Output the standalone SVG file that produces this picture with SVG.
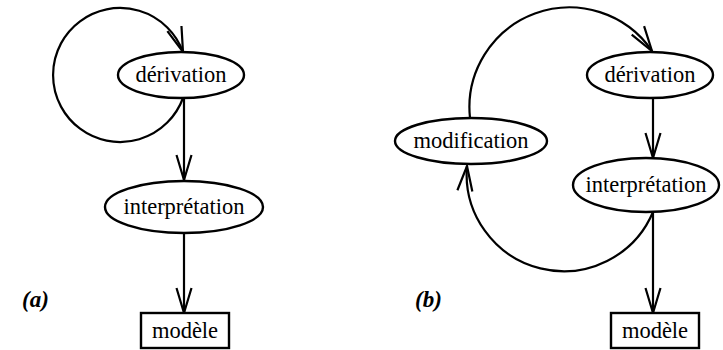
<svg xmlns="http://www.w3.org/2000/svg" width="723" height="350" viewBox="0 0 723 350">
  <style>
    .node { fill: #fff; stroke: #000; stroke-width: 2.4; }
    .lbl { font-size: 22.5px; text-anchor: middle; fill: #000; }
    .tag { font-size: 23px; font-weight: bold; font-style: italic; fill: #000; }
    .edge { fill: none; stroke: #000; stroke-width: 2.2; marker-end: url(#arrow); }
  </style>
  <defs>
    <marker id="arrow" markerUnits="userSpaceOnUse" markerWidth="30" markerHeight="20" refX="0" refY="0" viewBox="-26 -10 30 20" orient="auto" overflow="visible">
      <path d="M -25 -7.5 L 0 0 L -25 7.5" fill="none" stroke="#000" stroke-width="2.2"/>
    </marker>
  </defs>
  <rect width="723" height="350" fill="#fff"/>

  <!-- connectors -->
  <g id="connectors">
    <!-- (a) -->
    <path class="edge" d="M 183 98 A 67 67 0 1 1 183 52"/>
    <path class="edge" d="M 184 98 L 184 180"/>
    <path class="edge" d="M 184 233 L 184 313"/>
    <!-- (b) -->
    <path class="edge" d="M 470 118 A 100 100 0 0 1 652 51"/>
    <path class="edge" d="M 653 98 L 653 158"/>
    <path class="edge" d="M 653 212 A 97 97 0 0 1 467 166"/>
    <path class="edge" d="M 653 212 L 653 313"/>
  </g>

  <g font-family="Liberation Serif, Times New Roman, serif">
    <!-- (a) nodes -->
    <g id="a-derivation">
      <ellipse class="node" cx="181" cy="75" rx="63" ry="23"/>
      <text class="lbl" x="181" y="82">dérivation</text>
    </g>
    <g id="a-interpretation">
      <ellipse class="node" cx="184" cy="207" rx="79" ry="26"/>
      <text class="lbl" x="184" y="214">interprétation</text>
    </g>
    <g id="a-modele">
      <rect class="node" x="141" y="313" width="88" height="35"/>
      <text class="lbl" x="185" y="338">modèle</text>
    </g>
    <text class="tag" x="22" y="307">(a)</text>

    <!-- (b) nodes -->
    <g id="b-derivation">
      <ellipse class="node" cx="650" cy="75" rx="63" ry="23"/>
      <text class="lbl" x="650" y="82">dérivation</text>
    </g>
    <g id="b-modification">
      <ellipse class="node" cx="471" cy="141" rx="76" ry="23"/>
      <text class="lbl" x="471" y="148">modification</text>
    </g>
    <g id="b-interpretation">
      <ellipse class="node" cx="646" cy="185" rx="73" ry="27"/>
      <text class="lbl" x="646" y="192">interprétation</text>
    </g>
    <g id="b-modele">
      <rect class="node" x="611" y="313" width="88" height="35"/>
      <text class="lbl" x="655" y="338">modèle</text>
    </g>
    <text class="tag" x="415" y="307">(b)</text>
  </g>
</svg>
